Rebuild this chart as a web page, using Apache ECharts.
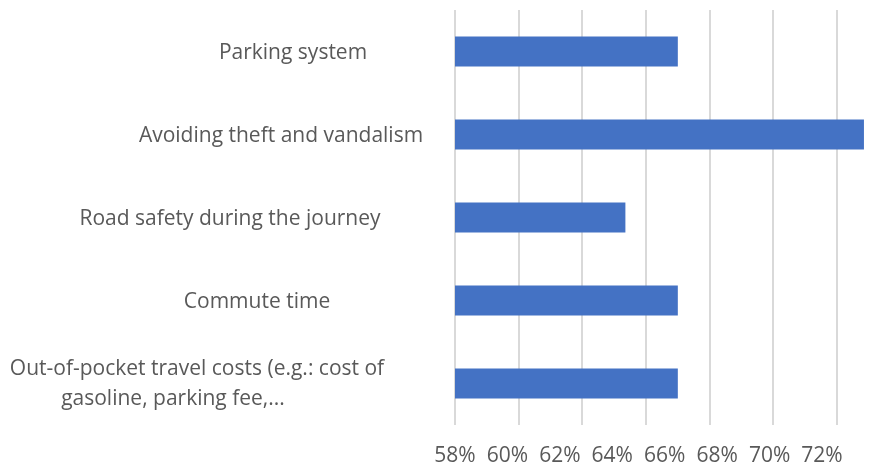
<!DOCTYPE html>
<html>
<head>
<meta charset="utf-8">
<script src="https://cdn.jsdelivr.net/npm/echarts@6/dist/echarts.min.js"></script>
<style>
  html, body { margin: 0; padding: 0; background: #fff; }
  #chart { width: 891px; height: 470px; }
</style>
</head>
<body>
<div id="chart"></div>
<script>
const categories = [
  "Parking system",
  "Avoiding theft and vandalism",
  "Road safety during the journey",
  "Commute time",
  "Out-of-pocket travel costs (e.g.: cost of gasoline, parking fee,..."
];
const shares = [66.5, 73.6, 64.5, 66.5, 66.5];

// label-box widths so each label sits where the original put it
const labelStyles = {
  c0: { width: 324, align: "center", padding: [4, 0, 0, 0] },
  c1: { width: 348, align: "center", padding: [4, 0, 0, 0] },
  c2: { width: 450, align: "center", padding: [4, 0, 0, 0] },
  c3: { width: 396, align: "center", padding: [4, 0, 0, 0] },
  c4a: { width: 516, align: "center", padding: [4, 0, 0, 48] },
  c4b: { width: 564, align: "center" }
};

const textColor = "#595959";
const font = "Open Sans";
const fontSize = 21;

Object.values(labelStyles).forEach((s) => {
  s.color = textColor;
  s.fontFamily = font;
  s.fontSize = fontSize;
  s.lineHeight = 32;
});

const chart = echarts.init(document.getElementById("chart"), null, { renderer: "canvas" });

chart.setOption({
  animation: false,
  grid: { left: 455, top: 10, width: 410, height: 415, outerBoundsMode: "none", containLabel: false },
  xAxis: [
    {
      type: "value",
      position: "bottom",
      min: 58,
      max: 73.64,
      interval: 2,
      axisLine: { show: false },
      axisTick: { show: false },
      splitLine: { show: false },
      axisLabel: {
        showMaxLabel: false,
        margin: 21,
        color: textColor,
        fontFamily: font,
        fontSize: fontSize,
        formatter: "{value}%"
      }
    },
    {
      // gridlines in the original are spaced wider than the tick labels
      type: "value",
      position: "top",
      min: 58,
      max: 70.89,
      interval: 2,
      axisLine: { show: false },
      axisTick: { show: false },
      axisLabel: { show: false },
      splitLine: {
        show: true,
        showMaxLine: false,
        lineStyle: { color: "#d9d9d9", width: 2 }
      }
    }
  ],
  yAxis: {
    type: "category",
    inverse: true,
    data: categories,
    axisLine: { show: false },
    axisTick: { show: false },
    axisLabel: {
      margin: 0,
      interval: 0,
      color: textColor,
      fontFamily: font,
      fontSize: fontSize,
      rich: labelStyles,
      formatter: (value, idx) => {
        if (idx === 4) {
          return "{c4a|Out-of-pocket travel costs (e.g.: cost of}\n{c4b|gasoline, parking fee,...}";
        }
        return "{c" + idx + "|" + value + "}";
      }
    }
  },
  series: [
    {
      type: "bar",
      xAxisIndex: 0,
      data: shares,
      barWidth: 30,
      itemStyle: { color: "#4472c4" }
    }
  ]
});
</script>
</body>
</html>
